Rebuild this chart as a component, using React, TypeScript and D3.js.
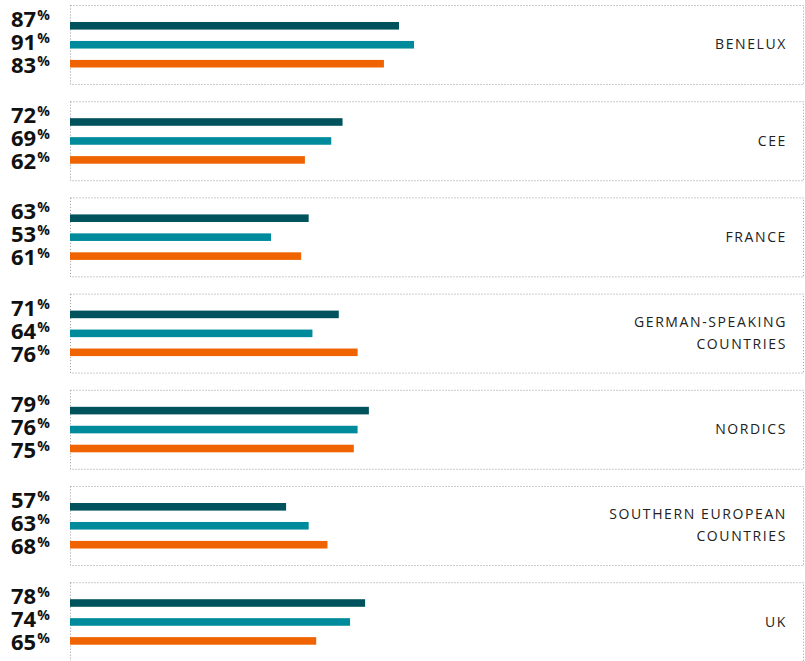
import { useEffect, useRef } from "react"
import * as d3 from "d3"

const categories = [
  "BENELUX",
  "CEE",
  "FRANCE",
  "GERMAN-SPEAKING COUNTRIES",
  "NORDICS",
  "SOUTHERN EUROPEAN COUNTRIES",
  "UK",
]
// two-line labels as drawn in the chart
const categoryLines = [
  ["BENELUX"],
  ["CEE"],
  ["FRANCE"],
  ["GERMAN-SPEAKING", "COUNTRIES"],
  ["NORDICS"],
  ["SOUTHERN EUROPEAN", "COUNTRIES"],
  ["UK"],
]
const darkValues = [87, 72, 63, 71, 79, 57, 78]
const tealValues = [91, 69, 53, 64, 76, 63, 74]
const orangeValues = [83, 62, 61, 76, 75, 68, 65]
const seriesColors = ["#00525c", "#008b9d", "#ef6400"]

const width = 805
const height = 661

function App() {
  const svgRef = useRef<SVGSVGElement>(null)

  useEffect(() => {
    const svg = d3.select(svgRef.current)
    svg.selectAll("*").remove()

    const series = [darkValues, tealValues, orangeValues]
    const panelLeft = 70
    const panelRight = 803

    const y = d3.scaleBand<string>()
      .domain(categories)
      .range([5, 661.2])
      .paddingInner(0.179)
      .paddingOuter(0)

    const x = d3.scaleLinear().domain([0, 100]).range([71.6, 447.9])

    const barY = d3.scaleBand<number>()
      .domain([0, 1, 2])
      .range([17, 62.5])
      .paddingInner(0.6)
      .paddingOuter(0)

    const labelY = d3.scalePoint<number>().domain([0, 1, 2]).range([22, 68])

    const panels = svg.selectAll("g.panel")
      .data(categories)
      .join("g")
      .attr("class", "panel")
      .attr("transform", d => `translate(0,${y(d)})`)

    panels.append("rect")
      .attr("x", panelLeft + 0.5)
      .attr("y", 0.5)
      .attr("width", panelRight - panelLeft)
      .attr("height", y.bandwidth())
      .attr("fill", "none")
      .attr("stroke", "#999")
      .attr("stroke-dasharray", "1 2")

    panels.each(function (_, i) {
      const g = d3.select(this)
      series.forEach((vals, s) => {
        g.append("rect")
          .attr("x", panelLeft)
          .attr("y", barY(s)!)
          .attr("width", x(vals[i]) - panelLeft)
          .attr("height", barY.bandwidth())
          .attr("fill", seriesColors[s])

        const t = g.append("text")
          .attr("x", 11)
          .attr("y", labelY(s)!)
          .attr("font-family", "'Open Sans', sans-serif")
          .attr("font-weight", 700)
          .attr("font-size", 22)
          .attr("fill", "#111")
        t.append("tspan").text(vals[i])
        t.append("tspan")
          .attr("font-size", 14)
          .attr("dy", -7)
          .attr("dx", 1)
          .text("%")
      })

      const lines = categoryLines[i]
      const lh = 22
      const mid = y.bandwidth() / 2 + 5
      lines.forEach((line, k) => {
        g.append("text")
          .attr("x", 787)
          .attr("y", mid + (k - (lines.length - 1) / 2) * lh)
          .attr("text-anchor", "end")
          .attr("font-family", "'Open Sans', sans-serif")
          .attr("font-size", 14)
          .attr("letter-spacing", 1.6)
          .attr("fill", "#222")
          .text(line)
      })
    })
  }, [])

  return (
    <svg
      ref={svgRef}
      width={width}
      height={height}
      style={{ position: "absolute", left: 0, top: 0, background: "#fff" }}
    />
  )
}

export default App
